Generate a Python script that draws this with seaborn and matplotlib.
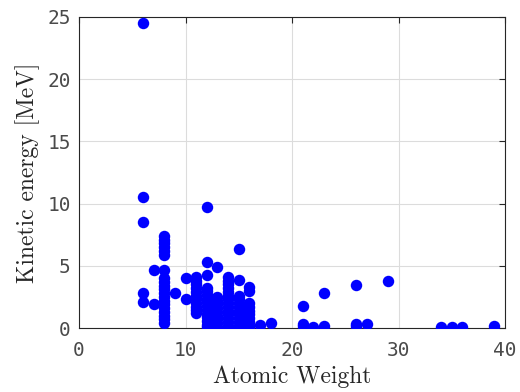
import matplotlib
matplotlib.use("Agg")
import matplotlib.pyplot as plt
import seaborn as sns
import pandas as pd

# ---- data ----
w6 = [24.5, 10.5, 8.5, 2.8, 2.1]
w7 = [4.7, 1.9]
w8 = [7.4, 7.1, 6.8, 6.5, 6.2, 5.9, 4.7, 4.0, 3.7, 3.4, 3.1, 2.8, 2.5, 2.2,
      1.9, 1.6, 1.3, 1.0, 0.7, 0.4]
w9 = [2.8]
w10 = [4.0, 2.35]
w11 = [4.1, 3.8, 3.5, 3.2, 2.9, 2.6, 2.3, 2.0, 1.7, 1.45, 1.2]
w12 = [9.75, 5.3, 4.3, 3.25, 2.95, 2.65, 2.35, 2.05, 1.75, 1.45, 1.15, 0.85,
       0.55, 0.25, 0.05]
w13 = [4.9, 2.5, 2.2, 1.9, 1.6, 1.3, 1.0, 0.7, 0.4, 0.1]
w14 = [4.1, 3.8, 3.5, 3.2, 2.9, 2.6, 2.3, 2.0, 1.7, 1.4, 1.1, 0.8, 0.5,
       0.2, 0.05]
w15 = [6.35, 3.85, 2.6, 2.3, 2.0, 1.7, 1.4, 1.1, 0.8, 0.5, 0.2, 0.05]
w16 = [3.3, 3.0, 2.0, 1.7, 1.4, 1.1, 0.8, 0.5, 0.2, 0.05]
w17 = [0.25]
w18 = [0.4]
w21 = [1.8, 0.3, 0.15]
w22 = [0.1]
w23 = [2.8, 0.2]
w26 = [3.45, 0.3, 0.15]
w27 = [0.3]
w29 = [3.8]
w34 = [0.1]
w35 = [0.1]
w36 = [0.1]
w39 = [0.13]

columns = {6: w6, 7: w7, 8: w8, 9: w9, 10: w10, 11: w11, 12: w12, 13: w13,
           14: w14, 15: w15, 16: w16, 17: w17, 18: w18, 21: w21, 22: w22,
           23: w23, 26: w26, 27: w27, 29: w29, 34: w34, 35: w35, 36: w36,
           39: w39}

xticks = [0, 10, 20, 30, 40]
yticks = [0, 5, 10, 15, 20, 25]

rows = [(w, e) for w, vals in columns.items() for e in vals]
df = pd.DataFrame(rows, columns=["Atomic Weight", "Kinetic energy"])

sns.set_style("white")

fig = plt.figure(figsize=(5.2, 3.92), dpi=100)
ax = fig.add_axes([79 / 520, 64 / 392, 426 / 520, 311 / 392])

sns.scatterplot(data=df, x="Atomic Weight", y="Kinetic energy", ax=ax,
                color="#0000ff", s=68, linewidth=0, zorder=3)

ax.set_xlim(0, 40)
ax.set_ylim(0, 25)
ax.set_xticks(xticks)
ax.set_yticks(yticks)
ax.grid(True, color="#dcdcdc", linewidth=0.8, zorder=0)
ax.set_axisbelow(True)

for sp in ax.spines.values():
    sp.set_visible(True)
    sp.set_color("#262626")
    sp.set_linewidth(0.8)

ax.tick_params(direction="in", length=4, width=0.8, color="#262626",
               top=True, right=True, labeltop=False, labelright=False,
               labelsize=14, labelcolor="#4a4a4a")
ax.tick_params(axis="x", pad=9)
ax.tick_params(axis="y", pad=6)
for lab in ax.get_xticklabels() + ax.get_yticklabels():
    lab.set_family("DejaVu Sans Mono")

ax.set_xlabel("Atomic Weight", family="cmr10", fontsize=17, color="#262626",
              labelpad=4)
ax.set_ylabel("Kinetic energy [MeV]", family="cmr10", fontsize=17,
              color="#262626", labelpad=5)

fig.savefig("out.png", dpi=100)
